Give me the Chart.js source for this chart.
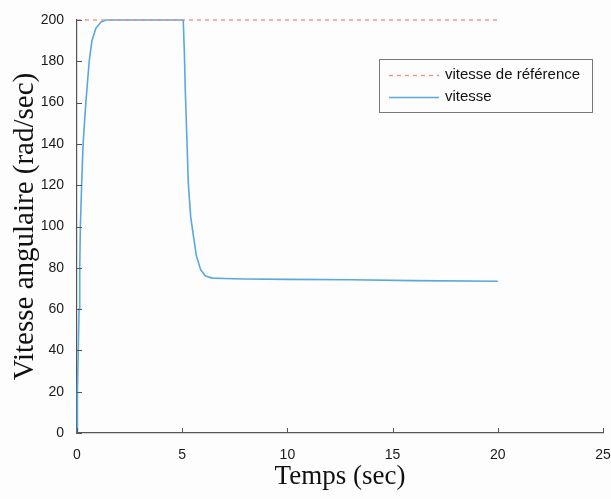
<!DOCTYPE html>
<html>
<head>
<meta charset="utf-8">
<script src="https://cdn.jsdelivr.net/npm/chart.js@4/dist/chart.umd.min.js"></script>
<style>
html,body{margin:0;padding:0;background:#fdfdfd;}
canvas{display:block;}
</style>
</head>
<body>
<canvas id="c" width="611" height="499"></canvas>
<script>
// ---- data ----
const refTime = [0, 20];
const refValues = [200, 200];
const time = [0, 0.02, 0.06, 0.1, 0.13, 0.16, 0.22, 0.29, 0.42, 0.58, 0.71, 0.9, 1.14, 1.38, 2, 3, 4, 5.05, 5.1, 5.15, 5.24, 5.29, 5.4, 5.51, 5.67, 5.88, 6.11, 6.43, 7, 8, 10, 13, 16, 20];
const vitesse = [0, 20, 40, 60, 80, 100, 120, 140, 160, 180, 190, 196, 199, 200, 200, 200, 200, 200, 185, 165, 137, 121, 105, 97, 86, 79, 76, 75, 74.8, 74.6, 74.4, 74.2, 73.8, 73.5];
const xTicks = [0, 5, 10, 15, 20, 25];
const yTicks = [0, 20, 40, 60, 80, 100, 120, 140, 160, 180, 200];
const seriesLabels = ['vitesse de référence', 'vitesse'];
const xTitle = 'Temps (sec)';
const yTitle = 'Vitesse angulaire (rad/sec)';

const toPts = (xs, ys) => xs.map((x, i) => ({x: x, y: ys[i]}));

const innerTicks = {
  id: 'innerTicks',
  afterDraw(chart) {
    const ctx = chart.ctx;
    const xs = chart.scales.x, ys = chart.scales.y;
    const a = chart.chartArea;
    ctx.save();
    ctx.strokeStyle = '#555';
    ctx.lineWidth = 1;
    xTicks.forEach(v => {
      const px = Math.round(xs.getPixelForValue(v)) + 0.5;
      ctx.beginPath(); ctx.moveTo(px, a.bottom); ctx.lineTo(px, a.bottom - 5); ctx.stroke();
    });
    yTicks.forEach(v => {
      const py = Math.round(ys.getPixelForValue(v)) + 0.5;
      ctx.beginPath(); ctx.moveTo(a.left, py); ctx.lineTo(a.left + 5, py); ctx.stroke();
    });
    ctx.restore();
  }
};

const boxLegend = {
  id: 'boxLegend',
  afterDraw(chart) {
    const ctx = chart.ctx;
    ctx.save();
    ctx.fillStyle = '#fdfdfd';
    ctx.fillRect(379, 59, 213, 53);
    ctx.strokeStyle = '#777';
    ctx.lineWidth = 1;
    ctx.strokeRect(379.5, 59.5, 213, 53);
    const rows = [75, 97];
    chart.data.datasets.forEach((ds, i) => {
      const y = rows[i] + 0.5;
      ctx.strokeStyle = ds.borderColor;
      ctx.lineWidth = 1.3;
      ctx.setLineDash(ds.borderDash || []);
      ctx.beginPath(); ctx.moveTo(389, y); ctx.lineTo(439, y); ctx.stroke();
      ctx.setLineDash([]);
      ctx.fillStyle = '#111';
      ctx.font = '15px "Liberation Sans", Arial, sans-serif';
      ctx.textBaseline = 'middle';
      ctx.textAlign = 'left';
      ctx.fillText(ds.label, 445, rows[i]);
    });
    ctx.restore();
  }
};

new Chart(document.getElementById('c'), {
  type: 'line',
  data: {
    datasets: [
      {
        label: seriesLabels[0],
        data: toPts(refTime, refValues),
        borderColor: '#f08a80',
        borderWidth: 1.3,
        borderDash: [4, 4],
        pointRadius: 0,
        fill: false,
        clip: false
      },
      {
        label: seriesLabels[1],
        data: toPts(time, vitesse),
        borderColor: '#5aa8e0',
        borderWidth: 1.6,
        pointRadius: 0,
        tension: 0,
        fill: false,
        clip: false
      }
    ]
  },
  options: {
    responsive: false,
    animation: false,
    devicePixelRatio: 1,
    layout: {padding: {top: 20, right: 8, left: 0, bottom: 0}},
    plugins: {legend: {display: false}, tooltip: {enabled: false}},
    scales: {
      x: {
        type: 'linear',
        min: 0, max: 25,
        afterBuildTicks: s => { s.ticks = xTicks.map(v => ({value: v})); },
        afterFit: s => { s.height = 66; s.paddingLeft = 0; s.paddingRight = 0; },
        grid: {display: false},
        border: {display: true, color: '#555', width: 1.2},
        ticks: {color: '#1a1a1a', padding: 6, font: {family: '"Liberation Sans", Arial, sans-serif', size: 14}, maxRotation: 0, autoSkip: false},
        title: {display: true, text: xTitle, color: '#111', padding: {top: 0, bottom: 6}, font: {family: '"Liberation Serif", "Times New Roman", serif', size: 27}}
      },
      y: {
        type: 'linear',
        min: 0, max: 200,
        afterBuildTicks: s => { s.ticks = yTicks.map(v => ({value: v})); },
        afterFit: s => { s.width = 77; s.paddingTop = 0; s.paddingBottom = 0; },
        grid: {display: false},
        border: {display: true, color: '#555', width: 1.2},
        ticks: {color: '#1a1a1a', padding: 5, font: {family: '"Liberation Sans", Arial, sans-serif', size: 14}, autoSkip: false},
        title: {display: true, text: yTitle, color: '#111', padding: {top: 8, bottom: 0}, font: {family: '"Liberation Serif", "Times New Roman", serif', size: 29}}
      }
    }
  },
  plugins: [innerTicks, boxLegend]
});
</script>
</body>
</html>
